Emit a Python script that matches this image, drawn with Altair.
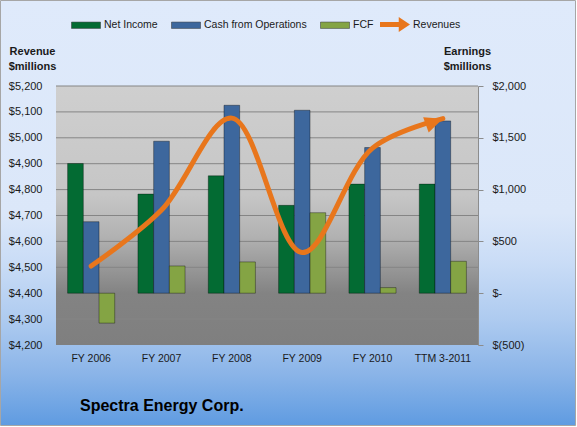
import altair as alt
import pandas as pd

categories = ["FY 2006", "FY 2007", "FY 2008", "FY 2009", "FY 2010", "TTM 3-2011"]
series_names = ["Net Income", "Cash from Operations", "FCF"]
net_income = [1252, 957, 1133, 848, 1053, 1053]
cash_from_ops = [690, 1467, 1814, 1766, 1406, 1663]
fcf = [-289, 263, 302, 777, 54, 308]
revenues = [4505, 4721, 5076, 4557, 4960, 5074]
revenue_ticks = [4200, 4300, 4400, 4500, 4600, 4700, 4800, 4900, 5000, 5100, 5200]
grid_values = [4300, 4400, 4500, 4600, 4700, 4800, 4900, 5000, 5100, 5200]
earnings_ticks = [-500, 0, 500, 1000, 1500, 2000]

FONT = "Liberation Sans"
TXT = "#1a1a1a"
ORANGE = "#e8761c"
BAR_COLORS = ["#036b33", "#3d679d", "#84a444"]
W, H = 422, 259

rows = []
for i, c in enumerate(categories):
    for s, vals in zip(series_names, [net_income, cash_from_ops, fcf]):
        rows.append({"cat": c, "series": s, "value": vals[i]})
bars_df = pd.DataFrame(rows)
rev_df = pd.DataFrame({"cat": categories, "revenue": revenues, "name": ["Revenues"] * len(categories)})
grid_df = pd.DataFrame({"v": grid_values})
one = pd.DataFrame({"a": [0]})

outer_grad = alt.LinearGradient(
    gradient="linear", x1=0, x2=0, y1=0, y2=1,
    stops=[
        alt.GradientStop(color="#dfeafb", offset=0),
        alt.GradientStop(color="#dbe7f9", offset=0.5),
        alt.GradientStop(color="#c9dcf6", offset=0.62),
        alt.GradientStop(color="#aecbf0", offset=0.75),
        alt.GradientStop(color="#8ab4e8", offset=0.88),
        alt.GradientStop(color="#5f9be1", offset=1),
    ],
)
plot_grad = alt.LinearGradient(
    gradient="linear", x1=0, x2=0, y1=0, y2=1,
    stops=[
        alt.GradientStop(color="#cfcfcf", offset=0),
        alt.GradientStop(color="#c6c6c6", offset=0.42),
        alt.GradientStop(color="#b2b2b2", offset=0.58),
        alt.GradientStop(color="#989898", offset=0.7),
        alt.GradientStop(color="#838383", offset=0.8),
        alt.GradientStop(color="#7f7f7f", offset=1),
    ],
)

outer_bg = alt.Chart(one).mark_rect(fill=outer_grad, stroke="#a6a6a6", strokeWidth=1).encode(
    x=alt.value(-55.5), x2=alt.value(519.5), y=alt.value(-85.5), y2=alt.value(339.5)
)
plot_bg = alt.Chart(one).mark_rect(fill=plot_grad).encode(
    x=alt.value(0), x2=alt.value(W), y=alt.value(0), y2=alt.value(H)
)

rev_scale = alt.Scale(domain=[4200, 5200], nice=False, zero=False)

grid = alt.Chart(grid_df).mark_rule(color="#858585", strokeWidth=1).encode(
    y=alt.Y("v:Q", scale=rev_scale, axis=None)
)

earn_label = ("datum.value == 0 ? '$-' : (datum.value < 0 ? '$(' + format(-datum.value, ',') + ')' "
              ": '$' + format(datum.value, ','))")

rect_path = "M-1,-0.22L1,-0.22L1,0.22L-1,0.22Z"
arrow_path = "M-1,-0.16L0.25,-0.16L0.25,-0.5L1,0L0.25,0.5L0.25,0.16L-1,0.16Z"
head_path = "M0,0L-1,-0.45L-1,0.45Z"

x_enc = alt.X(
    "cat:N", sort=categories,
    scale=alt.Scale(paddingInner=0.33, paddingOuter=0.165),
    axis=alt.Axis(title=None, labelFont=FONT, labelFontSize=10.5, labelColor=TXT, ticks=False,
                  domain=False, labelPadding=8, labelAngle=0, zindex=1),
)

bars = alt.Chart(bars_df).mark_bar(stroke="#000000", strokeOpacity=0.35, strokeWidth=1).encode(
    x=x_enc,
    xOffset=alt.XOffset("series:N", sort=series_names, scale=alt.Scale(paddingInner=0, paddingOuter=0)),
    y=alt.Y(
        "value:Q",
        scale=alt.Scale(domain=[-500, 2000], nice=False),
        axis=alt.Axis(
            orient="right", values=earnings_ticks, labelExpr=earn_label, grid=False,
            labelFont=FONT, labelFontSize=11, labelColor=TXT, tickSize=5, tickColor="#8c8c8c",
            domain=True, domainColor="#8c8c8c", labelPadding=9, zindex=1,
            title=["Earnings", "$millions"], titleFont=FONT, titleFontSize=11, titleFontWeight="bold",
            titleColor=TXT, titleAngle=0, titleAlign="center", titleBaseline="alphabetic",
            titleX=-11, titleY=-32, titleLineHeight=15,
        ),
    ),
    y2=alt.datum(0),
    color=alt.Color(
        "series:N", sort=series_names,
        scale=alt.Scale(domain=series_names, range=BAR_COLORS),
        legend=alt.Legend(
            title=None, orient="none", legendX=15, legendY=-76, direction="horizontal",
            symbolType=rect_path, symbolSize=841, symbolStrokeColor="#333333", symbolStrokeWidth=0.5,
            labelFont=FONT, labelFontSize=10.5, labelColor=TXT, labelOffset=3,
            columnPadding=12, padding=0,
        ),
    ),
)

line = alt.Chart(rev_df).mark_line(interpolate="catmull-rom", strokeWidth=5, strokeCap="round").encode(
    x=alt.X("cat:N", sort=categories, bandPosition=0.5),
    y=alt.Y(
        "revenue:Q", scale=rev_scale,
        axis=alt.Axis(
            orient="left", values=revenue_ticks, labelExpr="'$' + format(datum.value, ',')", grid=False,
            labelFont=FONT, labelFontSize=11, labelColor=TXT, ticks=False, tickSize=0, domain=False,
            labelPadding=14, zindex=1,
            title=["Revenue", "$millions"], titleFont=FONT, titleFontSize=11, titleFontWeight="bold",
            titleColor=TXT, titleAngle=0, titleAlign="center", titleBaseline="alphabetic",
            titleX=-24, titleY=-32, titleLineHeight=15,
        ),
    ),
    stroke=alt.Stroke(
        "name:N", scale=alt.Scale(domain=["Revenues"], range=[ORANGE]),
        legend=alt.Legend(
            title=None, orient="none", legendX=324, legendY=-76.5, direction="horizontal",
            symbolType=arrow_path, symbolSize=900, symbolFillColor=ORANGE, symbolStrokeWidth=0,
            labelFont=FONT, labelFontSize=10.5, labelColor=TXT, labelOffset=3, padding=0,
        ),
    ),
)

head = alt.Chart(rev_df.tail(1)).mark_point(
    shape=head_path, filled=True, size=1296, angle=340, color=ORANGE, opacity=1, strokeWidth=0
).encode(
    x=alt.X("cat:N", sort=categories, bandPosition=0.5),
    y=alt.Y("revenue:Q", scale=rev_scale, axis=None),
)

chart = alt.layer(outer_bg, plot_bg, grid, bars, line, head).resolve_scale(
    y="independent", stroke="independent"
).properties(
    width=W, height=H,
    autosize=alt.AutoSizeParams(type="none"),
    padding={"left": 56, "top": 86, "right": 99, "bottom": 82},
    title=alt.TitleParams(
        "Spectra Energy Corp.", orient="bottom", anchor="start", dx=24, offset=-28, frame="group",
        font=FONT, fontSize=16, fontWeight="bold", color="#000000", baseline="top",
    ),
).configure_view(stroke=None)

chart.save("out.html", embed_options={"renderer": "svg", "actions": False})
